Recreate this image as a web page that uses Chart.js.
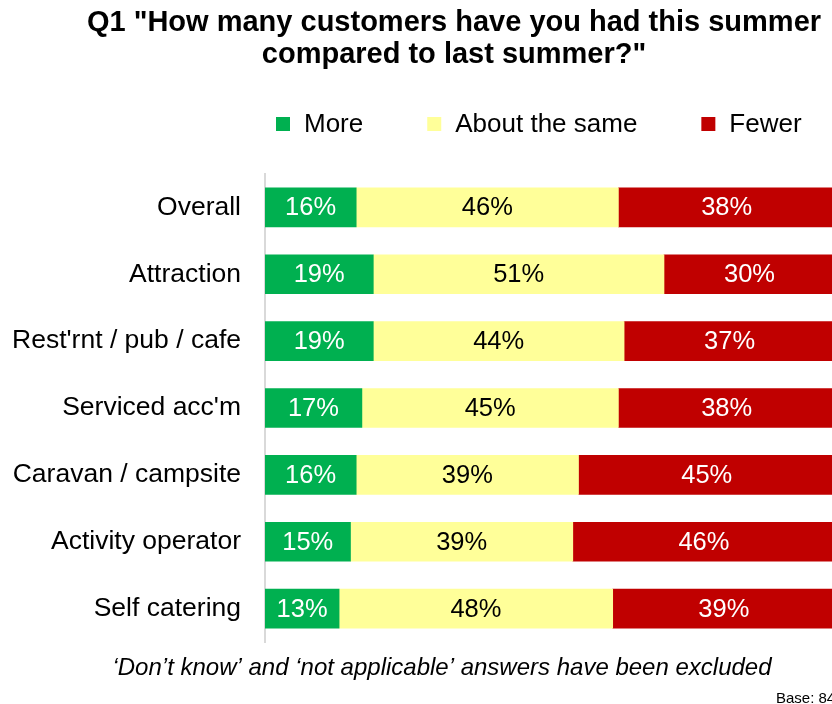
<!DOCTYPE html>
<html>
<head>
<meta charset="utf-8">
<script src="https://cdn.jsdelivr.net/npm/chart.js@4"></script>
<style>
  html, body { margin: 0; padding: 0; background: #fff; overflow: hidden; }
  #wrap { position: relative; width: 838px; height: 704px; }
</style>
</head>
<body>
<div id="wrap"><canvas id="q1Chart"></canvas></div>
<script>
const categories = ["Overall", "Attraction", "Rest'rnt / pub / cafe", "Serviced acc'm", "Caravan / campsite", "Activity operator", "Self catering"];
const more = [16, 19, 19, 17, 16, 15, 13];
const aboutSame = [46, 51, 44, 45, 39, 39, 48];
const fewer = [38, 30, 37, 38, 45, 46, 39];
const seriesNames = ["More", "About the same", "Fewer"];
const seriesColors = ["#00B050", "#FFFF99", "#C00000"];
const labelColors = ["#ffffff", "#000000", "#ffffff"];
const titleLines = ['Q1 "How many customers have you had this summer', 'compared to last summer?"'];
const footnote = "\u2018Don\u2019t know\u2019 and \u2018not applicable\u2019 answers have been excluded";
const baseNote = "Base: 84";

const FONT = "'Liberation Sans', Arial, Helvetica, sans-serif";

// percentage written in the middle of every bar segment
const barLabels = {
  id: 'barLabels',
  afterDatasetsDraw(chart) {
    const ctx = chart.ctx;
    ctx.save();
    ctx.font = '25.5px ' + FONT;
    ctx.textAlign = 'center';
    ctx.textBaseline = 'middle';
    chart.data.datasets.forEach((ds, i) => {
      ctx.fillStyle = labelColors[i];
      chart.getDatasetMeta(i).data.forEach((bar, j) => {
        const p = bar.getCenterPoint();
        ctx.fillText(ds.data[j] + '%', p.x, p.y + 1);
      });
    });
    ctx.restore();
  }
};

// title, legend row and the notes under the bars
const pageText = {
  id: 'pageText',
  afterDraw(chart) {
    const ctx = chart.ctx;
    ctx.save();
    ctx.fillStyle = '#000';
    ctx.textAlign = 'center';
    ctx.textBaseline = 'alphabetic';
    ctx.font = 'bold 29px ' + FONT;
    ctx.fillText(titleLines[0], 454, 31);
    ctx.fillText(titleLines[1], 454, 63);

    ctx.font = '26px ' + FONT;
    ctx.textAlign = 'left';
    ctx.textBaseline = 'middle';
    let x = 276;
    chart.data.datasets.forEach(ds => {
      ctx.fillStyle = ds.backgroundColor;
      ctx.fillRect(x, 117, 14, 14);
      ctx.fillStyle = '#000';
      ctx.fillText(ds.label, x + 28, 125);
      x += 28 + ctx.measureText(ds.label).width + 64;
    });

    ctx.font = 'italic 24px ' + FONT;
    ctx.textAlign = 'center';
    ctx.textBaseline = 'alphabetic';
    ctx.fillText(footnote, 442, 675);
    ctx.font = '15px ' + FONT;
    ctx.textAlign = 'left';
    ctx.fillText(baseNote, 776, 703);
    ctx.restore();
  }
};

new Chart(document.getElementById('q1Chart'), {
  type: 'bar',
  data: {
    labels: categories,
    datasets: [more, aboutSame, fewer].map((values, i) => ({
      label: seriesNames[i],
      data: values,
      backgroundColor: seriesColors[i],
      borderWidth: 0,
      barThickness: 39
    }))
  },
  options: {
    indexAxis: 'y',
    responsive: true,
    maintainAspectRatio: false,
    animation: false,
    layout: { padding: { top: 174, bottom: 62, left: 0, right: 3 } },
    plugins: {
      legend: { display: false },
      title: { display: false },
      tooltip: { enabled: false }
    },
    scales: {
      x: { stacked: true, min: 0, max: 100, display: false },
      y: {
        stacked: true,
        grid: { display: false, drawTicks: false },
        border: { display: true, color: '#d9d9d9', width: 2 },
        ticks: { color: '#000', font: { family: FONT, size: 26.5 }, padding: 24 },
        afterFit(scale) { scale.width = 265; }
      }
    }
  },
  plugins: [barLabels, pageText]
});
</script>
</body>
</html>
